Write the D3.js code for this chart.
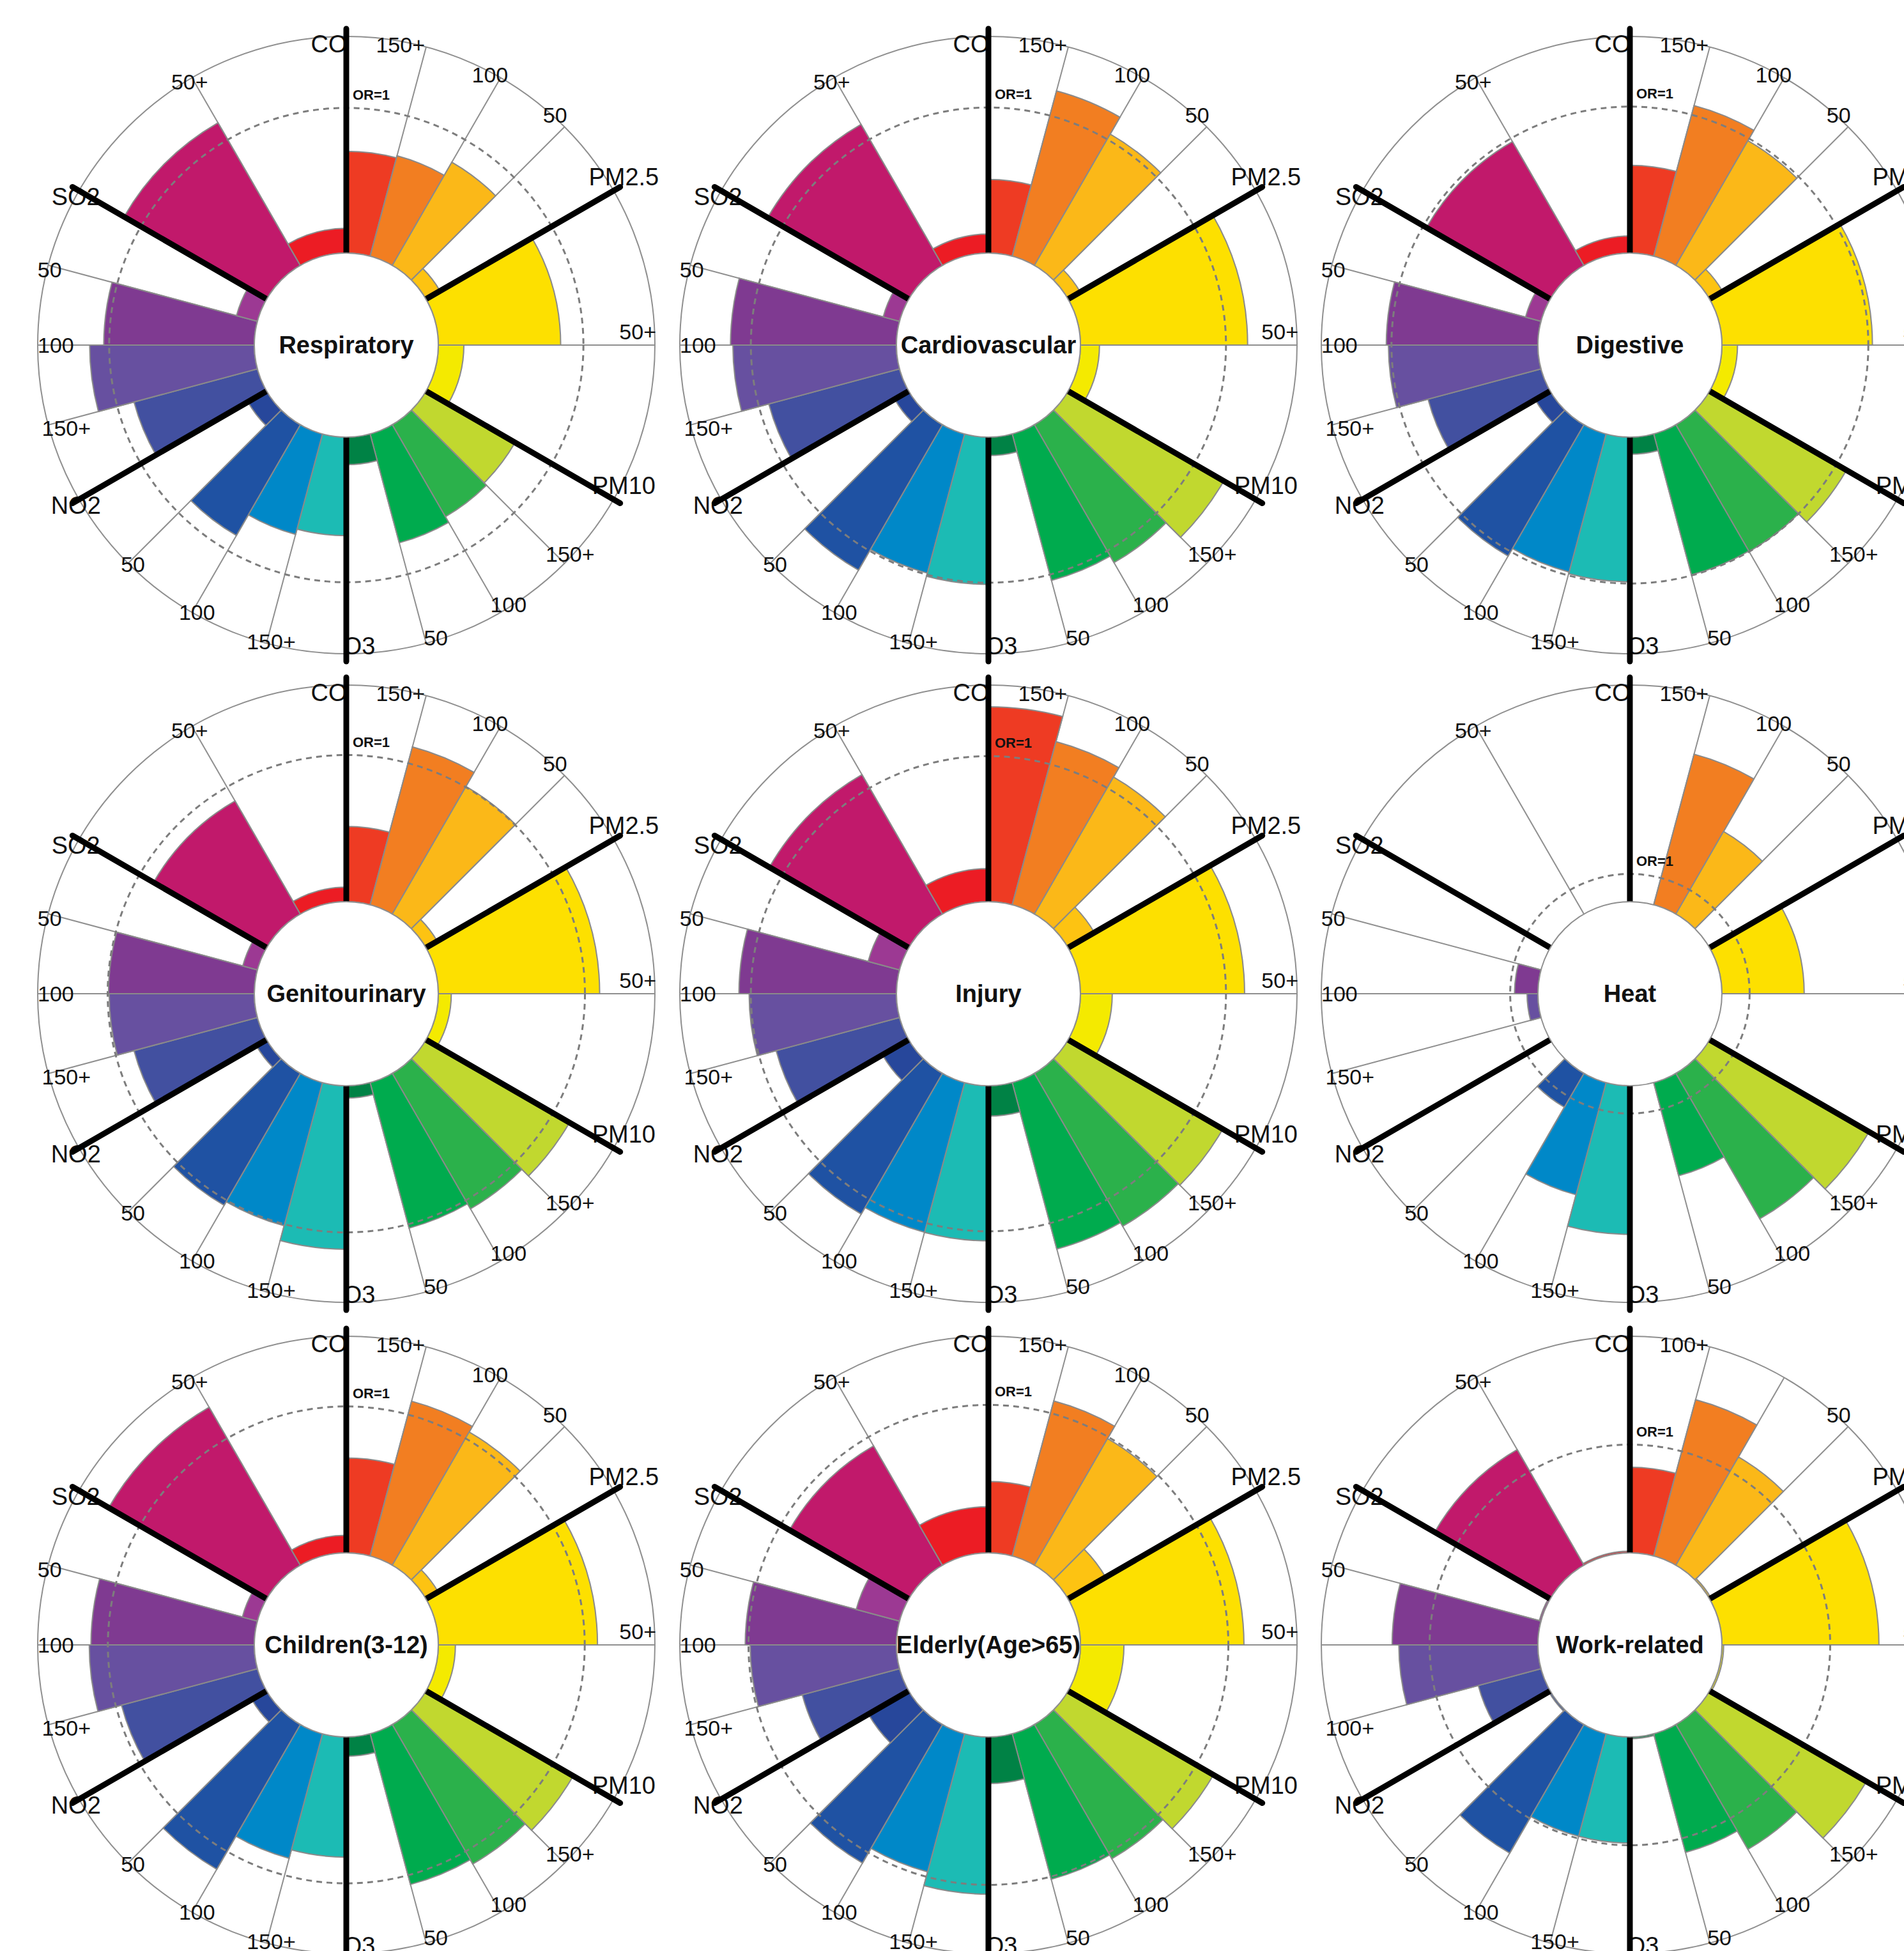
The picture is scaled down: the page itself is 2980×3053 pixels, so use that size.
<!DOCTYPE html>
<html>
<head>
<meta charset="utf-8">
<script src="https://cdn.jsdelivr.net/npm/d3@7"></script>
<style>
body { margin: 0; background: #fff; }
svg text { font-family: "Liberation Sans", Arial, sans-serif; fill: #111; }
</style>
</head>
<body>
<svg class="container" width="2980" height="3053"></svg>
<script>
// one rose per outcome, bars go clockwise from CO
let panelNames = ["Respiratory", "Cardiovascular", "Digestive",
    "Genitourinary", "Injury", "Heat",
    "Children(3-12)", "Elderly(Age>65)", "Work-related"];
let pollutants = ["CO", "PM2.5", "PM10", "O3", "NO2", "SO2"];
// width of every bar in 15 degree steps (PM2.5 and SO2 only have two bins)
let barWidths = [1, 1, 1, 1, 2, 2, 1, 1, 1, 1, 1, 1, 1, 1, 1, 1, 1, 1, 2, 2];
let barColors = ["#ee3b23", "#f27e21", "#fbb818", "#fdc312", "#fde000", "#f4ea00",
    "#c1d82f", "#2bb14b", "#00ab4e", "#008245", "#1cbbb4", "#0088c8",
    "#1f52a3", "#27479b", "#4250a0", "#6750a0", "#7f3a91", "#9c3993",
    "#c1196b", "#ec1c24"];
let binTicks = [1, 2, 3, 6, 9, 10, 11, 13, 14, 15, 17, 18, 19, 22];
let binLabels = ["150+", "100", "50", "50+", "150+", "100", "50", "150+", "100", "50", "150+", "100", "50", "50+"];
let workBinLabels = ["100+", "", "50", "50+", "150+", "100", "50", "150+", "100", "50", "100+", "", "50", "50+"];

// bar length, 0 = inner circle, 1 = outer ring
let respiratory = [0.47, 0.48, 0.55, 0.075, 0.565, 0.118, 0.475, 0.49, 0.52, 0.127, 0.455, 0.48, 0.59, 0.10, 0.59, 0.76, 0.695, 0.10, 0.76, 0.114];
let cardiovascular = [0.34, 0.79, 0.70, 0.065, 0.772, 0.088, 0.83, 0.735, 0.70, 0.085, 0.68, 0.665, 0.775, 0.075, 0.625, 0.755, 0.766, 0.078, 0.752, 0.088];
let digestive = [0.405, 0.72, 0.665, 0.07, 0.695, 0.072, 0.73, 0.676, 0.673, 0.079, 0.668, 0.66, 0.70, 0.08, 0.54, 0.69, 0.70, 0.074, 0.66, 0.079];
let genitourinary = [0.347, 0.755, 0.68, 0.06, 0.745, 0.06, 0.765, 0.722, 0.695, 0.057, 0.755, 0.684, 0.703, 0.055, 0.59, 0.67, 0.673, 0.07, 0.603, 0.067];
let injury = [0.90, 0.78, 0.73, 0.14, 0.758, 0.147, 0.825, 0.815, 0.795, 0.14, 0.716, 0.715, 0.75, 0.14, 0.59, 0.68, 0.727, 0.15, 0.743, 0.153];
let heat = [0, 0.72, 0.44, 0, 0.38, 0, 0.85, 0.775, 0.445, 0, 0.686, 0.536, 0.18, 0, 0, 0.05, 0.108, 0, 0, 0];
let children = [0.438, 0.74, 0.71, 0.065, 0.735, 0.079, 0.785, 0.743, 0.72, 0.089, 0.555, 0.595, 0.771, 0.079, 0.65, 0.762, 0.754, 0.072, 0.842, 0.081];
let elderly = [0.33, 0.741, 0.675, 0.20, 0.755, 0.201, 0.775, 0.715, 0.695, 0.215, 0.726, 0.66, 0.738, 0.215, 0.465, 0.675, 0.698, 0.207, 0.636, 0.213];
let workRelated = [0.395, 0.747, 0.577, 0.008, 0.725, 0.008, 0.836, 0.665, 0.567, 0.008, 0.49, 0.49, 0.685, 0.008, 0.30, 0.642, 0.673, 0.008, 0.616, 0.008];
let panelValues = [respiratory, cardiovascular, digestive, genitourinary, injury, heat, children, elderly, workRelated];
// where OR=1 falls on the same 0..1 radial axis
let orOne = [0.67, 0.672, 0.676, 0.677, 0.672, 0.128, 0.676, 0.683, 0.50];

let rInner = 144;
let rOuter = 483;
let colX = [542, 1547, 2551];
let rowY = [540, 1555, 2574];

let angle = d3.scaleLinear().domain([0, 24]).range([0, 2 * Math.PI]);
let radius = d3.scaleLinear().domain([0, 1]).range([rInner, rOuter]);
let arc = d3.arc()
    .innerRadius(rInner)
    .outerRadius(d => radius(d.value))
    .startAngle(d => angle(d.start))
    .endAngle(d => angle(d.end));
let deg = Math.PI / 180;

let svg = d3.select(".container");
svg.append("rect").attr("width", 2980).attr("height", 3053).attr("fill", "#fff");

panelNames.forEach((name, i) => drawPanel(i));

function polar(a, r) {
    return [r * Math.sin(a), -r * Math.cos(a)];
}

function buildBars(values) {
    let bars = [];
    let pos = 0;
    values.forEach((v, k) => {
        bars.push({ "start": pos, "end": pos + barWidths[k], "value": v, "color": barColors[k] });
        pos += barWidths[k];
    });
    return bars;
}

// where a rim label sits, relative to the panel centre
function binPlace(t) {
    let a = angle(t);
    if (t == 6) return { "x": rOuter + 2, "y": -21, "anchor": "end" };
    if (t == 18) return { "x": -rOuter, "y": 0, "anchor": "start" };
    if (t == 1) {
        let p = polar(a, rOuter);
        return { "x": p[0] - 2, "y": p[1] - 3, "anchor": "end" };
    }
    if (t == 17) {
        let p = polar(a, rOuter);
        return { "x": p[0] - 10, "y": p[1] + 5, "anchor": "start" };
    }
    let shift = t < 12 ? 2 * deg : 0.8 * deg;
    let p = polar(a - shift, rOuter - 4);
    // the upper right label sits a little higher
    let lift = t == 3 ? -10 : 0;
    return { "x": p[0], "y": p[1] + lift, "anchor": "middle" };
}

function polPlace(k) {
    let a = angle(k * 4);
    let p = polar(a, rOuter);
    let off;
    if (k == 0) off = [-27, 12];
    else if (k == 3) off = [20, -12];
    else if (k < 3) off = [16, -22];
    else off = [-5, 9];
    return { "x": p[0] + off[0], "y": p[1] + off[1] };
}

function drawPanel(i) {
    let cx = colX[i % 3];
    let cy = rowY[Math.floor(i / 3)];
    let g = svg.append("g").attr("transform", "translate(" + cx + "," + cy + ")");
    let labels = panelNames[i] == "Work-related" ? workBinLabels : binLabels;

    g.append("circle")
        .attr("r", rOuter)
        .attr("fill", "none")
        .style("stroke", "#8f8f8f")
        .style("stroke-width", 2);

    g.selectAll("line.grid")
        .data(binTicks)
        .enter()
        .append("line")
        .attr("class", "grid")
        .attr("x1", d => polar(angle(d), rInner)[0])
        .attr("y1", d => polar(angle(d), rInner)[1])
        .attr("x2", d => polar(angle(d), rOuter)[0])
        .attr("y2", d => polar(angle(d), rOuter)[1])
        .style("stroke", "#8f8f8f")
        .style("stroke-width", 2);

    g.selectAll("path.bar")
        .data(buildBars(panelValues[i]).filter(d => d.value > 0))
        .enter()
        .append("path")
        .attr("class", "bar")
        .attr("d", arc)
        .attr("fill", d => d.color)
        .style("stroke", "#8a8a8a")
        .style("stroke-width", 2);

    g.append("circle")
        .attr("r", radius(orOne[i]))
        .attr("fill", "none")
        .style("stroke", "#7d7d7d")
        .style("stroke-width", 3)
        .style("stroke-dasharray", "9,7");

    // concentration bin labels round the rim
    g.selectAll("text.bin")
        .data(binTicks.map((t, k) => ({ "t": t, "text": labels[k], "pos": binPlace(t) })))
        .enter()
        .append("text")
        .attr("class", "bin")
        .attr("font-size", 34)
        .attr("text-anchor", d => d.pos.anchor)
        .attr("x", d => d.pos.x)
        .attr("y", d => d.pos.y)
        .attr("dy", "0.35em")
        .text(d => d.text);

    g.selectAll("text.pol")
        .data(pollutants)
        .enter()
        .append("text")
        .attr("class", "pol")
        .attr("font-size", 38)
        .attr("text-anchor", "middle")
        .attr("x", (d, k) => polPlace(k).x)
        .attr("y", (d, k) => polPlace(k).y)
        .attr("dy", "0.35em")
        .text(d => d);

    g.selectAll("line.sep")
        .data(pollutants)
        .enter()
        .append("line")
        .attr("class", "sep")
        .attr("x1", (d, k) => polar(angle(k * 4), rInner)[0])
        .attr("y1", (d, k) => polar(angle(k * 4), rInner)[1])
        .attr("x2", (d, k) => polar(angle(k * 4), rOuter + 12)[0])
        .attr("y2", (d, k) => polar(angle(k * 4), rOuter + 12)[1])
        .style("stroke", "#000")
        .style("stroke-width", 9)
        .style("stroke-linecap", "round");

    g.append("circle")
        .attr("r", rInner)
        .attr("fill", "#fff")
        .style("stroke", "#8f8f8f")
        .style("stroke-width", 2);

    g.append("text")
        .attr("text-anchor", "middle")
        .attr("dy", "0.35em")
        .attr("font-size", 38)
        .attr("font-weight", "bold")
        .text(panelNames[i]);

    g.append("text")
        .attr("x", 10)
        .attr("y", -radius(orOne[i]) - 13)
        .attr("font-size", 22)
        .attr("font-weight", "bold")
        .text("OR=1");
}
</script>
</body>
</html>
